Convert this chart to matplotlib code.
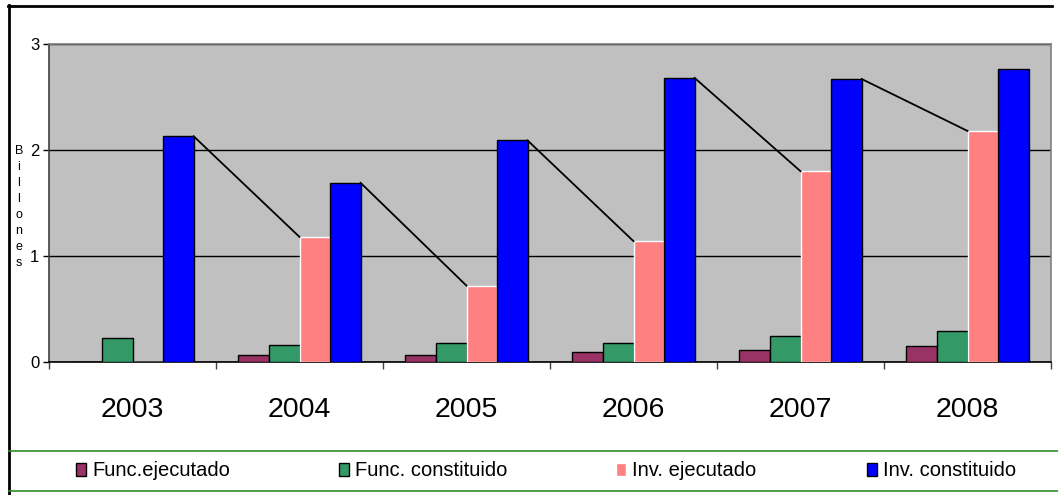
import numpy as np
import matplotlib
matplotlib.use("Agg")
import matplotlib.pyplot as plt
from matplotlib.lines import Line2D
from matplotlib.ticker import FixedLocator

plt.rcParams['font.family'] = ['Liberation Sans', 'DejaVu Sans']

# data (billones)
years = ['2003', '2004', '2005', '2006', '2007', '2008']
func_ejec = [0.0, 0.07, 0.07, 0.09, 0.11, 0.15]
func_const = [0.23, 0.16, 0.18, 0.18, 0.25, 0.29]
inv_ejec = [0.0, 1.18, 0.72, 1.14, 1.80, 2.18]
inv_const = [2.13, 1.69, 2.09, 2.68, 2.67, 2.76]

W, H = 1058, 495
fig = plt.figure(figsize=(W / 100, H / 100), dpi=100)
ax = fig.add_axes([49 / W, 1 - 362 / H, 1002 / W, 318 / H])
ax.set_facecolor('#C0C0C0')

x = np.arange(len(years))
w = 0.183
b1 = ax.bar(x - 1.5 * w, func_ejec, w, color='#993366', edgecolor='black', linewidth=1, label='Func.ejecutado', zorder=3)
b2 = ax.bar(x - 0.5 * w, func_const, w, color='#339966', edgecolor='black', linewidth=1, label='Func. constituido', zorder=3)
b3 = ax.bar(x + 0.5 * w, inv_ejec, w, color='#FF8080', edgecolor='white', linewidth=1, label='Inv. ejecutado', zorder=3)
b4 = ax.bar(x + 1.5 * w, inv_const, w, color='#0000FF', edgecolor='black', linewidth=1, label='Inv. constituido', zorder=3)

# lines from top of Inv. constituido to next year's Inv. ejecutado
for i in range(len(years) - 1):
    ax.plot([x[i] + 2 * w, x[i + 1]], [inv_const[i], inv_ejec[i + 1]],
            color='black', linewidth=1.3, zorder=4)

ax.set_xlim(-0.5, len(years) - 0.5)
ax.set_ylim(0, 3)
ax.set_yticks([0, 1, 2, 3])
ax.set_yticklabels(['0', '1', '2', '3'], fontsize=12)
ax.tick_params(axis='y', direction='out', length=4, width=1, pad=3, color='black')
ax.yaxis.grid(True, color='black', linewidth=1)
ax.set_axisbelow(True)

ax.set_xticks(x)
ax.set_xticklabels(years, fontsize=20.5)
ax.tick_params(axis='x', which='major', length=0, pad=25)
ax.xaxis.set_minor_locator(FixedLocator(np.arange(-0.5, len(years), 1.0)))
ax.tick_params(axis='x', which='minor', direction='out', length=5, width=1, color='#404040')

ax.spines['left'].set_color('#404040')
ax.spines['bottom'].set_color('black')
ax.spines['top'].set_color('#808080')
ax.spines['right'].set_color('#808080')
for s in ax.spines.values():
    s.set_linewidth(1.2)

# stacked y label
fig.text(19 / W, 1 - 207 / H, '\n'.join('Billones'), fontsize=9,
         ha='center', va='center', linespacing=1.45)

# figure border (top and left)
fig.add_artist(Line2D([8 / W, 1052 / W], [1 - 5.5 / H, 1 - 5.5 / H], color='black', linewidth=2, transform=fig.transFigure))
fig.add_artist(Line2D([8.5 / W, 8.5 / W], [0, 1 - 5 / H], color='black', linewidth=2, transform=fig.transFigure))

# legend frame
for yy in (451, 491):
    fig.add_artist(Line2D([9 / W, 1], [1 - yy / H, 1 - yy / H], color='#2E8B2E', linewidth=1.2, transform=fig.transFigure))

handles = [b1, b2, b3, b4]
starts = [76, 339, 616, 867]
for h, sx in zip(handles, starts):
    fig.legend(handles=[h], loc='center left', bbox_to_anchor=(sx / W, 1 - 471 / H),
               frameon=False, fontsize=14.5, handlelength=0.5, handleheight=0.6,
               handletextpad=0.3, borderpad=0, borderaxespad=0)

fig.savefig('out.png', dpi=100)
